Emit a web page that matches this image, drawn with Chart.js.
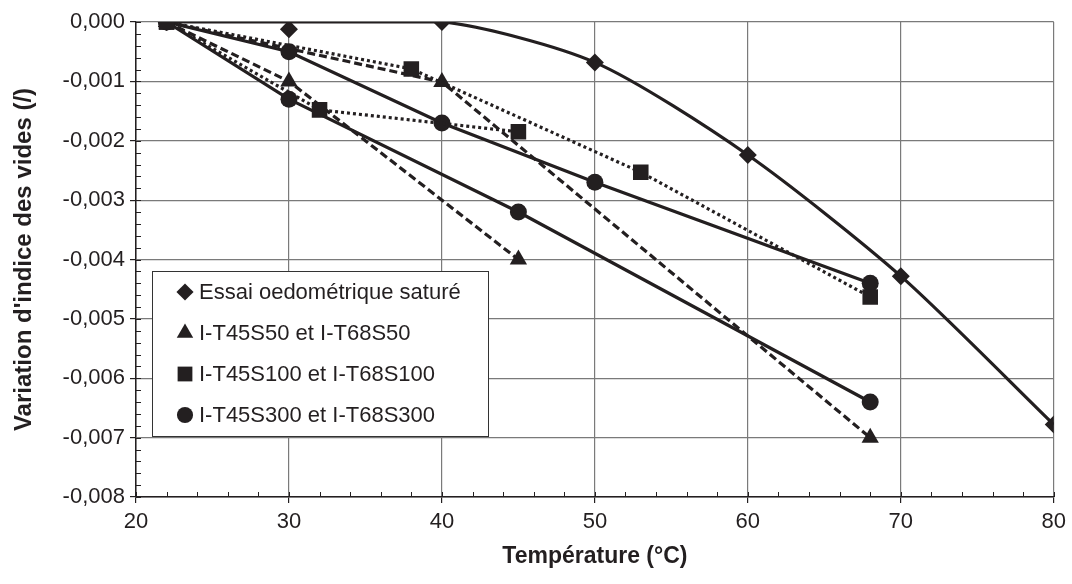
<!DOCTYPE html>
<html>
<head>
<meta charset="utf-8">
<script src="https://cdn.jsdelivr.net/npm/chart.js@4/dist/chart.umd.min.js"></script>
<style>
  body { margin: 0; background: #fff; }
  canvas { display: block; }
</style>
</head>
<body>
<canvas id="voidChart" width="1072" height="584"></canvas>
<script>
// essai oedométrique saturé (points + courbe)
const xOedo = [22, 30, 40, 50, 60, 70, 80];
const yOedo = [0, -0.00012, 0, -0.00068, -0.00224, -0.00428, -0.00678];
const xOedoFit = [22, 40, 50, 60, 70, 80];
const yOedoFit = [0, 0, -0.00068, -0.00224, -0.00428, -0.00678];

// S50
const xT45S50 = [22, 30, 45];
const yT45S50 = [0, -0.001, -0.004];
const xT68S50 = [22, 40, 68];
const yT68S50 = [0, -0.00101, -0.007];

// S100
const xT45S100 = [22, 32, 45];
const yT45S100 = [0, -0.00148, -0.00185];
const xT68S100 = [22, 38, 53, 68];
const yT68S100 = [0, -0.00079, -0.00253, -0.00463];

// S300
const xT45S300 = [22, 30, 45, 68];
const yT45S300 = [0, -0.0013, -0.0032, -0.0064];
const xT68S300 = [22, 30, 40, 50, 68];
const yT68S300 = [0, -0.0005, -0.0017, -0.0027, -0.0044];

const legendLabels = [
    'Essai oedométrique saturé',
    'I-T45S50 et I-T68S50',
    'I-T45S100 et I-T68S100',
    'I-T45S300 et I-T68S300'
];

const ink = '#231f20';
const fontFamily = "'Liberation Sans', Arial, sans-serif";

const pts = (xs, ys) => xs.map((x, i) => ({ x: x, y: ys[i] }));

function series(xs, ys, style, radius, dash, order) {
    return {
        data: pts(xs, ys),
        borderColor: ink,
        backgroundColor: ink,
        borderWidth: 3.2,
        borderDash: dash,
        pointStyle: style,
        pointRadius: radius,
        pointBorderWidth: 0,
        order: order
    };
}

const markers = [
    { style: 'rectRot', r: 9 },
    { style: 'triangle', r: 10 },
    { style: 'rect', r: 11 },
    { style: 'circle', r: 8.5 }
];

// minor ticks pointing inside the plot
const minorTicks = {
    id: 'minorTicks',
    beforeDatasetsDraw(chart) {
        const { ctx, chartArea: a, scales: { x, y } } = chart;
        ctx.save();
        ctx.strokeStyle = ink;
        ctx.lineWidth = 1;
        ctx.beginPath();
        for (let v = 20; v <= 80; v += 2) {
            const px = Math.round(x.getPixelForValue(v)) + 0.5;
            ctx.moveTo(px, a.bottom);
            ctx.lineTo(px, a.bottom - 5);
        }
        for (let i = 0; i <= 40; i++) {
            const py = Math.round(y.getPixelForValue(-i * 0.0002)) + 0.5;
            ctx.moveTo(a.left, py);
            ctx.lineTo(a.left + 5, py);
        }
        ctx.stroke();
        ctx.restore();
    }
};

// legend box inside the plot
const legendBox = {
    id: 'legendBox',
    afterDatasetsDraw(chart) {
        const ctx = chart.ctx;
        ctx.save();
        ctx.fillStyle = '#fff';
        ctx.fillRect(152, 271, 336, 165);
        ctx.strokeStyle = '#333';
        ctx.lineWidth = 1;
        ctx.strokeRect(152.5, 271.5, 336, 165);
        ctx.font = '22px ' + fontFamily;
        ctx.textBaseline = 'middle';
        legendLabels.forEach((label, i) => {
            const yy = 292 + i * 41;
            ctx.fillStyle = ink;
            ctx.strokeStyle = ink;
            Chart.helpers.drawPoint(ctx, {
                pointStyle: markers[i].style,
                radius: markers[i].r * 0.95,
                rotation: 0,
                borderWidth: 0
            }, 185, yy);
            ctx.fillStyle = ink;
            ctx.fillText(label, 199, yy + 1);
        });
        ctx.restore();
    }
};

const fmt = v => {
    const r = Math.round(v * 1000);
    return (r === 0 ? 0 : r / 1000).toFixed(3).replace('.', ',');
};

new Chart(document.getElementById('voidChart'), {
    type: 'line',
    data: {
        datasets: [
            Object.assign(series(xOedo, yOedo, markers[0].style, markers[0].r, [], 3), { showLine: false }),
            Object.assign(series(xOedoFit, yOedoFit, 'circle', 0, [], 3), { tension: 0.25 }),
            series(xT45S50, yT45S50, markers[1].style, markers[1].r, [8, 4], 2),
            series(xT68S50, yT68S50, markers[1].style, markers[1].r, [8, 4], 2),
            series(xT45S300, yT45S300, markers[3].style, markers[3].r, [], 1),
            series(xT68S300, yT68S300, markers[3].style, markers[3].r, [], 1),
            series(xT45S100, yT45S100, markers[2].style, markers[2].r, [3, 3], 0),
            series(xT68S100, yT68S100, markers[2].style, markers[2].r, [3, 3], 0)
        ]
    },
    options: {
        responsive: false,
        animation: false,
        devicePixelRatio: 1,
        layout: { padding: { left: 10, right: 18, top: 22, bottom: 14 } },
        plugins: {
            legend: { display: false },
            tooltip: { enabled: false }
        },
        scales: {
            x: {
                type: 'linear',
                min: 20,
                max: 80,
                ticks: {
                    stepSize: 10,
                    color: ink,
                    padding: 6,
                    maxRotation: 0,
                    font: { family: fontFamily, size: 22 }
                },
                grid: { color: '#7a7a7a', lineWidth: 1.2, tickLength: 6, tickColor: ink },
                border: { color: ink, width: 1.5 },
                title: {
                    display: true,
                    text: 'Température (°C)',
                    color: ink,
                    padding: { top: 0, bottom: 0 },
                    font: { family: fontFamily, size: 23, weight: 'bold' }
                },
                afterFit(s) { s.height = 73; }
            },
            y: {
                type: 'linear',
                min: -0.008,
                max: 0,
                ticks: {
                    stepSize: 0.001,
                    color: ink,
                    padding: 5,
                    callback: v => fmt(v),
                    font: { family: fontFamily, size: 22 }
                },
                grid: { color: '#7a7a7a', lineWidth: 1.2, tickLength: 6, tickColor: ink },
                border: { color: ink, width: 1.5 },
                title: {
                    display: true,
                    text: "Variation d'indice des vides (/)",
                    color: ink,
                    padding: { top: 0, bottom: 0 },
                    font: { family: fontFamily, size: 24, weight: 'bold' }
                },
                afterFit(s) { s.width = 126; }
            }
        }
    },
    plugins: [minorTicks, legendBox]
});
</script>
</body>
</html>
